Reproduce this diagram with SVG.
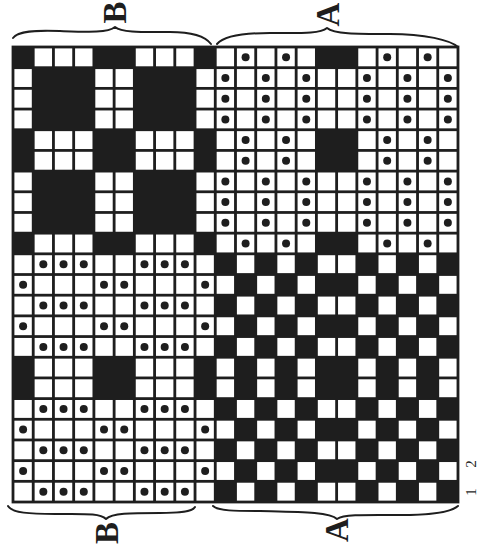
<svg xmlns="http://www.w3.org/2000/svg" width="480" height="552" viewBox="0 0 480 552">
<style>
.c{fill:#fff}
.dot{fill:#1e1e1e}
.brace{fill:none;stroke:#1e1e1e;stroke-width:2;stroke-linecap:round;stroke-linejoin:round}
.lbl{font-family:"Liberation Serif","DejaVu Serif",serif;font-weight:bold;font-size:33px;fill:#1e1e1e;text-anchor:middle}
.num{font-family:"Liberation Serif","DejaVu Serif",serif;font-size:15px;fill:#1e1e1e;text-anchor:middle}
</style>
<defs>
<rect id="w" class="c" x="1.4" y="1.4" width="17.4" height="17.9"/>
<g id="d"><use href="#w"/><circle class="dot" cx="10.1" cy="10.35" r="4"/></g>
<g id="ra">
<use href="#w" x="33.23"/><use href="#w" x="53.45"/><use href="#w" x="73.68"/>
<use href="#w" x="134.36"/><use href="#w" x="154.59"/><use href="#w" x="174.82"/>
<use href="#w" x="215.27"/><use href="#w" x="255.73"/><use href="#w" x="296.18"/>
<use href="#w" x="356.86"/><use href="#w" x="397.32"/><use href="#w" x="437.77"/>
<use href="#d" x="235.5"/><use href="#d" x="275.95"/><use href="#d" x="377.09"/><use href="#d" x="417.55"/>
</g>
<g id="rb">
<use href="#w" x="13"/><use href="#w" x="93.91"/><use href="#w" x="114.14"/><use href="#w" x="195.05"/>
<use href="#w" x="235.5"/><use href="#w" x="275.95"/><use href="#w" x="316.41"/><use href="#w" x="336.64"/>
<use href="#w" x="377.09"/><use href="#w" x="417.55"/>
<use href="#d" x="215.27"/><use href="#d" x="255.73"/><use href="#d" x="296.18"/>
<use href="#d" x="356.86"/><use href="#d" x="397.32"/><use href="#d" x="437.77"/>
</g>
<g id="rp">
<use href="#w" x="13"/><use href="#w" x="93.91"/><use href="#w" x="114.14"/><use href="#w" x="195.05"/>
<use href="#w" x="235.5"/><use href="#w" x="275.95"/><use href="#w" x="316.41"/><use href="#w" x="336.64"/>
<use href="#w" x="377.09"/><use href="#w" x="417.55"/>
<use href="#d" x="33.23"/><use href="#d" x="53.45"/><use href="#d" x="73.68"/>
<use href="#d" x="134.36"/><use href="#d" x="154.59"/><use href="#d" x="174.82"/>
</g>
<g id="rr">
<use href="#w" x="33.23"/><use href="#w" x="53.45"/><use href="#w" x="73.68"/>
<use href="#w" x="134.36"/><use href="#w" x="154.59"/><use href="#w" x="174.82"/>
<use href="#w" x="215.27"/><use href="#w" x="255.73"/><use href="#w" x="296.18"/>
<use href="#w" x="356.86"/><use href="#w" x="397.32"/><use href="#w" x="437.77"/>
</g>
<g id="rq">
<use href="#rr"/>
<use href="#d" x="13"/><use href="#d" x="93.91"/><use href="#d" x="114.14"/><use href="#d" x="195.05"/>
</g>
</defs>
<rect width="480" height="552" fill="#fff"/>
<g id="grid">
<rect x="11.6" y="45.6" width="447.8" height="457.8" fill="#1e1e1e"/>
<use href="#ra" y="47"/>
<use href="#rb" y="67.68"/>
<use href="#rb" y="88.36"/>
<use href="#rb" y="109.05"/>
<use href="#ra" y="129.73"/>
<use href="#ra" y="150.41"/>
<use href="#rb" y="171.09"/>
<use href="#rb" y="191.77"/>
<use href="#rb" y="212.45"/>
<use href="#ra" y="233.14"/>
<use href="#rp" y="253.82"/>
<use href="#rq" y="274.5"/>
<use href="#rp" y="295.18"/>
<use href="#rq" y="315.86"/>
<use href="#rp" y="336.55"/>
<use href="#rr" y="357.23"/>
<use href="#rr" y="377.91"/>
<use href="#rp" y="398.59"/>
<use href="#rq" y="419.27"/>
<use href="#rp" y="439.95"/>
<use href="#rq" y="460.64"/>
<use href="#rp" y="481.32"/>
</g>
<g id="braces">
<path class="brace" d="M13,38 C18,31 35,30 60,31 C88,32 108,33 115,27 C122,33 145,32 170,32 C192,32 205,36 211,44"/>
<path class="brace" d="M217,44 C224,36 245,33 270,33 C300,33 320,34 327,28 C334,34 355,34 390,34 C425,34 450,40 458,47"/>
<path class="brace" d="M8,506 C12,513 30,514 55,514 C85,514 100,513 106,519 C112,513 130,513 160,513 C180,513 192,512 195,507"/>
<path class="brace" d="M213,506 C218,511 235,511 260,511 C300,512 330,512 337,519 C344,514 370,515 400,515 C430,515 450,513 458,506"/>
</g>
<g id="labels">
<text class="lbl" transform="translate(114.5,12.5) rotate(-90)" y="11">B</text>
<text class="lbl" transform="translate(327.5,14.5) rotate(-90)" y="11">A</text>
<text class="lbl" transform="translate(106.5,533) rotate(-90)" y="11">B</text>
<text class="lbl" transform="translate(336.5,530) rotate(-90)" y="11">A</text>
<text class="num" transform="translate(471,492) rotate(-90)" y="5">1</text>
<text class="num" transform="translate(471,464) rotate(-90)" y="5">2</text>
</g>
</svg>
